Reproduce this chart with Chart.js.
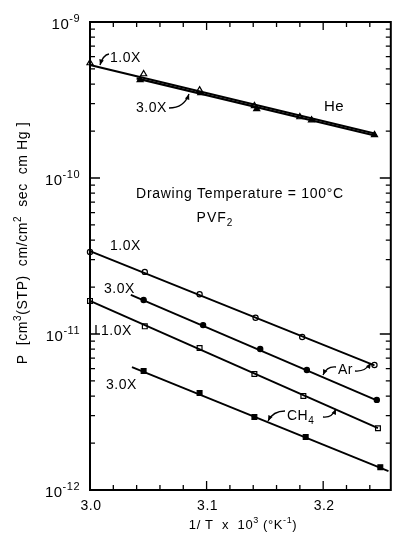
<!DOCTYPE html>
<html>
<head>
<meta charset="utf-8">
<script src="https://cdn.jsdelivr.net/npm/chart.js@4"></script>
<style>
  html, body { margin: 0; padding: 0; background: #fff; }
  #wrap { width: 396px; height: 536px; position: relative; }
</style>
</head>
<body>
<div id="wrap"><canvas id="chart"></canvas></div>
<script>
// 1/T x 10^3 and permeability values
// He, draw ratio 1.0X (open triangles) and 3.0X (filled triangles)
const heX1 = [3.0, 3.046, 3.094, 3.141, 3.180];
const heP1 = [5.46e-10, 4.64e-10, 3.66e-10, 2.90e-10, 2.46e-10];
const heX3 = [3.043, 3.095, 3.143, 3.190, 3.244];
const heP3 = [4.25e-10, 3.51e-10, 2.77e-10, 2.35e-10, 1.89e-10];

// Ar (circles)
const arX1 = [3.0, 3.047, 3.094, 3.142, 3.182, 3.244];
const arP1 = [3.36e-11, 2.50e-11, 1.80e-11, 1.27e-11, 9.57e-12, 6.33e-12];
const arX3 = [3.046, 3.097, 3.146, 3.186, 3.246];
const arP3 = [1.65e-11, 1.14e-11, 8.02e-12, 5.88e-12, 3.78e-12];

// CH4 (squares)
const chX1 = [3.0, 3.047, 3.094, 3.141, 3.183, 3.247];
const chP1 = [1.63e-11, 1.12e-11, 8.13e-12, 5.54e-12, 4.01e-12, 2.49e-12];
const chX3 = [3.046, 3.094, 3.141, 3.185, 3.249];
const chP3 = [5.79e-12, 4.19e-12, 2.94e-12, 2.19e-12, 1.40e-12];

// fitted straight lines (two end points each)
const heFit1X = [3.0, 3.245];   const heFit1P = [5.30e-10, 1.92e-10];
const heFit3X = [3.040, 3.246]; const heFit3P = [4.35e-10, 1.86e-10];
const arFit1X = [3.0, 3.244];   const arFit1P = [3.40e-11, 6.30e-12];
const arFit3X = [3.035, 3.246]; const arFit3P = [1.78e-11, 3.75e-12];
const chFit1X = [3.0, 3.247];   const chFit1P = [1.63e-11, 2.49e-12];
const chFit3X = [3.036, 3.256]; const chFit3P = [6.14e-12, 1.32e-12];

// axis ticks
const xMajor = [3.0, 3.1, 3.2];
const xLabels = ['3.0', '3.1', '3.2'];
const xMinor = [3.02, 3.04, 3.06, 3.08, 3.12, 3.14, 3.16, 3.18, 3.22, 3.24];
const yDecades = [1e-9, 1e-10, 1e-11, 1e-12];
const yExp = ['-9', '-10', '-11', '-12'];

const FONT = '"Liberation Sans", "DejaVu Sans", sans-serif';

function toPts(xs, ys) {
  return xs.map((x, i) => ({ x: x, y: ys[i] }));
}

function fitLine(xs, ys, w) {
  return {
    data: toPts(xs, ys), showLine: true, borderColor: '#000', borderWidth: w,
    pointRadius: 0, clip: false
  };
}

function marks(xs, ys, style, filled, r) {
  return {
    data: toPts(xs, ys), showLine: false, pointStyle: style, pointRadius: r,
    borderColor: '#000', borderWidth: 1.2,
    backgroundColor: filled ? '#000' : '#fff', clip: false
  };
}

// text with sup (1) / sub (-1) pieces, y = baseline
function drawRich(ctx, parts, x, y, size, align, spacing) {
  const small = Math.round(size * 0.72);
  ctx.letterSpacing = (spacing || 0) + 'px';
  let total = 0;
  const widths = parts.map(([t, k]) => {
    ctx.font = (k ? small : size) + 'px ' + FONT;
    const w = ctx.measureText(t).width;
    total += w;
    return w;
  });
  let cx = align === 'center' ? x - total / 2 : (align === 'right' ? x - total : x);
  ctx.textAlign = 'left';
  ctx.textBaseline = 'alphabetic';
  parts.forEach(([t, k], i) => {
    ctx.font = (k ? small : size) + 'px ' + FONT;
    const dy = k === 1 ? -size * 0.45 : (k === -1 ? size * 0.3 : 0);
    ctx.fillText(t, cx, y + dy);
    cx += widths[i];
  });
  ctx.letterSpacing = '0px';
}

function curveArrow(ctx, x0, y0, cx, cy, x1, y1) {
  ctx.beginPath();
  ctx.moveTo(x0, y0);
  ctx.quadraticCurveTo(cx, cy, x1, y1);
  ctx.stroke();
  const a = Math.atan2(y1 - cy, x1 - cx);
  ctx.beginPath();
  ctx.moveTo(x1, y1);
  ctx.lineTo(x1 - 6 * Math.cos(a - 0.4), y1 - 6 * Math.sin(a - 0.4));
  ctx.lineTo(x1 - 6 * Math.cos(a + 0.4), y1 - 6 * Math.sin(a + 0.4));
  ctx.closePath();
  ctx.fill();
}

// frame, inward ticks, labels and notes
const paperPlugin = {
  id: 'paper',
  afterDraw(chart) {
    const ctx = chart.ctx;
    const a = chart.chartArea;
    const xs = chart.scales.x, ys = chart.scales.y;
    ctx.save();
    ctx.strokeStyle = '#000';
    ctx.fillStyle = '#000';

    // frame
    ctx.lineWidth = 2;
    ctx.strokeRect(a.left, a.top, a.right - a.left, a.bottom - a.top);

    // x ticks (bottom and top)
    ctx.lineWidth = 1.3;
    ctx.beginPath();
    xMajor.forEach(v => {
      const px = xs.getPixelForValue(v);
      ctx.moveTo(px, a.bottom); ctx.lineTo(px, a.bottom - 9);
      ctx.moveTo(px, a.top); ctx.lineTo(px, a.top + 8);
    });
    xMinor.forEach(v => {
      const px = xs.getPixelForValue(v);
      ctx.moveTo(px, a.bottom); ctx.lineTo(px, a.bottom - 5);
      ctx.moveTo(px, a.top); ctx.lineTo(px, a.top + 5);
    });
    // y ticks (left and right)
    yDecades.forEach(v => {
      const py = ys.getPixelForValue(v);
      ctx.moveTo(a.left, py); ctx.lineTo(a.left + 10, py);
      ctx.moveTo(a.right, py); ctx.lineTo(a.right - 11, py);
    });
    for (let d = 0; d < yDecades.length - 1; d++) {
      for (let m = 2; m <= 9; m++) {
        const py = ys.getPixelForValue(yDecades[d + 1] * m);
        ctx.moveTo(a.left, py); ctx.lineTo(a.left + 5, py);
        ctx.moveTo(a.right, py); ctx.lineTo(a.right - 5, py);
      }
    }
    ctx.stroke();

    // tick labels
    xMajor.forEach((v, i) => {
      drawRich(ctx, [[xLabels[i], 0]], xs.getPixelForValue(v) + 1, a.bottom + 20, 14, 'center', 0.5);
    });
    yDecades.forEach((v, i) => {
      const py = ys.getPixelForValue(v);
      drawRich(ctx, [['10', 0], [yExp[i], 1]], 80, py + 7, 15, 'right', 0.5);
    });

    // axis titles
    drawRich(ctx, [['1/ T  x  10', 0], ['3', 1], [' (°K', 0], ['-1', 1], [')', 0]],
      243, a.bottom + 39, 13, 'center', 0.6);

    ctx.save();
    ctx.translate(27, 243);
    ctx.rotate(-Math.PI / 2);
    drawRich(ctx, [['P  ', 0], ['[', 0], ['cm', 0], ['3', 1], ['(STP)  cm/cm', 0], ['2', 1],
      ['  sec  cm Hg ', 0], [']', 0]], 0, 0, 14, 'center', 0.6);
    ctx.restore();

    // notes inside the plot
    drawRich(ctx, [['Drawing Temperature = 100°C', 0]], 240, 198, 14, 'center', 0.7);
    drawRich(ctx, [['PVF', 0], ['2', -1]], 215, 222, 14, 'center', 1);
    drawRich(ctx, [['He', 0]], 334, 111, 15, 'center', 0.5);
    drawRich(ctx, [['1.0X', 0]], 110, 62, 14, 'left', 0.5);
    drawRich(ctx, [['3.0X', 0]], 136, 112, 14, 'left', 0.5);
    drawRich(ctx, [['1.0X', 0]], 110, 250, 14, 'left', 0.5);
    drawRich(ctx, [['3.0X', 0]], 104, 293, 14, 'left', 0.5);
    drawRich(ctx, [['1.0X', 0]], 101, 335, 14, 'left', 0.5);
    drawRich(ctx, [['3.0X', 0]], 106, 389, 14, 'left', 0.5);
    drawRich(ctx, [['Ar', 0]], 338, 374, 14, 'left', 0.5);
    drawRich(ctx, [['CH', 0], ['4', -1]], 287, 420, 14, 'left', 0.5);

    ctx.lineWidth = 1.3;
    curveArrow(ctx, 109, 54, 103, 55, 100, 65);
    curveArrow(ctx, 169, 108, 184, 108, 189, 94);
    curveArrow(ctx, 336, 367, 327, 366, 323, 375);
    curveArrow(ctx, 355, 371, 365, 372, 371, 363);
    curveArrow(ctx, 285, 411, 273, 411, 268, 421);
    curveArrow(ctx, 323, 417, 332, 418, 336, 409);
    // small leader near the lower 1.0X label
    ctx.beginPath();
    ctx.moveTo(96, ys.getPixelForValue(1e-11));
    ctx.lineTo(96, ys.getPixelForValue(1e-11) - 9);
    ctx.stroke();

    ctx.restore();
  }
};

new Chart(document.getElementById('chart'), {
  type: 'scatter',
  data: {
    datasets: [
      fitLine(heFit1X, heFit1P, 2.2),
      fitLine(heFit3X, heFit3P, 2.2),
      fitLine(arFit1X, arFit1P, 1.8),
      fitLine(arFit3X, arFit3P, 1.8),
      fitLine(chFit1X, chFit1P, 1.8),
      fitLine(chFit3X, chFit3P, 1.8),
      marks(heX1, heP1, 'triangle', false, 3.5),
      marks(heX3, heP3, 'triangle', true, 3.5),
      marks(arX1, arP1, 'circle', false, 2.6),
      marks(arX3, arP3, 'circle', true, 2.6),
      marks(chX1, chP1, 'rect', false, 3.4),
      marks(chX3, chP3, 'rect', true, 3.4)
    ]
  },
  options: {
    responsive: true,
    maintainAspectRatio: false,
    animation: false,
    layout: { padding: { left: 90, right: 1, top: 22, bottom: 46 } },
    plugins: { legend: { display: false }, tooltip: { enabled: false } },
    scales: {
      x: { type: 'linear', min: 3.0, max: 3.258, display: false },
      y: { type: 'logarithmic', min: 1e-12, max: 1e-9, display: false }
    }
  },
  plugins: [paperPlugin]
});
</script>
</body>
</html>
